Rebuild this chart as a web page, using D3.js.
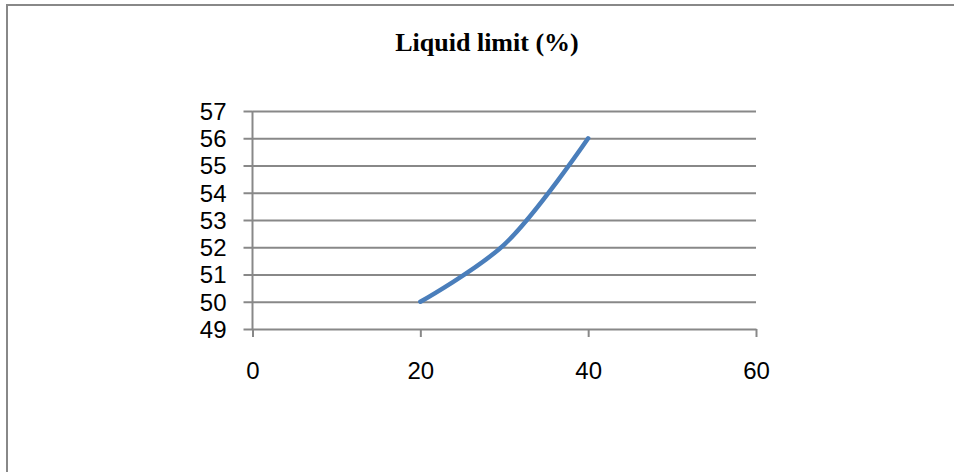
<!DOCTYPE html>
<html lang="en">
<head>
  <meta charset="UTF-8">
  <title>Liquid limit</title>
  <style>
    body { margin: 0; background: #fff; }
    svg { display: block; }
    .tick text { font-family: "Liberation Sans", Arial, sans-serif; font-size: 24px; fill: #000; }
  </style>
</head>
<body>
<svg id="chart" width="954" height="472"></svg>

<script src="https://cdn.jsdelivr.net/npm/d3@7"></script>
<script>
// data
var xValues = [20, 30, 40];
var liquidLimit = [50, 52.1, 56];
var xTicks = [0, 20, 40, 60];
var yTicks = [49, 50, 51, 52, 53, 54, 55, 56, 57];
var title = "Liquid limit (%)";

var svg = d3.select("#chart"),
  gridColor = "#888888",
  lineColor = "#4a7ebb";

// outer frame (only left and top show in the picture)
svg.append("path")
  .attr("d", "M7,472 L7,5 L954,5")
  .attr("fill", "none")
  .attr("stroke", gridColor)
  .attr("stroke-width", 2);

svg.append("text")
  .attr("x", 487)
  .attr("y", 51)
  .attr("text-anchor", "middle")
  .style("font-family", "'Liberation Serif', 'Times New Roman', serif")
  .style("font-weight", "bold")
  .style("font-size", "26px")
  .text(title);

var x = d3.scaleLinear().domain([0, 60]).range([252.5, 756]),
  y = d3.scaleLinear().domain([49, 57]).range([329, 111]);

// horizontal grid + left ticks
var yAxis = svg.append("g")
  .attr("transform", "translate(" + x(0) + ",0)")
  .call(d3.axisLeft(y).tickValues(yTicks).tickSize(9).tickPadding(17).tickFormat(d3.format("d")));
yAxis.select(".domain").remove();
yAxis.selectAll(".tick line").attr("stroke", gridColor).attr("stroke-width", 2);
yAxis.selectAll(".tick").filter(function (d) { return d !== 49; })
  .append("line")
  .attr("x1", 0).attr("x2", x(60) - x(0))
  .attr("stroke", gridColor).attr("stroke-width", 2);
yAxis.selectAll(".tick text").attr("dy", "0.35em");

// y axis line
svg.append("line")
  .attr("x1", x(0)).attr("x2", x(0))
  .attr("y1", y(57)).attr("y2", y(49))
  .attr("stroke", gridColor).attr("stroke-width", 2);

// x axis
var xAxis = svg.append("g")
  .attr("transform", "translate(0," + y(49) + ")")
  .call(d3.axisBottom(x).tickValues(xTicks).tickSize(8).tickPadding(25).tickSizeOuter(0));
xAxis.select(".domain").attr("stroke", gridColor).attr("stroke-width", 2);
xAxis.selectAll(".tick line").attr("stroke", gridColor).attr("stroke-width", 2);

// smoothed series
var line = d3.line()
  .x(function (d, i) { return x(xValues[i]); })
  .y(function (d) { return y(d); })
  .curve(d3.curveCatmullRom.alpha(0.5));

svg.append("path")
  .datum(liquidLimit)
  .attr("d", line)
  .attr("fill", "none")
  .attr("stroke", lineColor)
  .attr("stroke-width", 4.5)
  .attr("stroke-linecap", "round");
</script>
</body>
</html>
